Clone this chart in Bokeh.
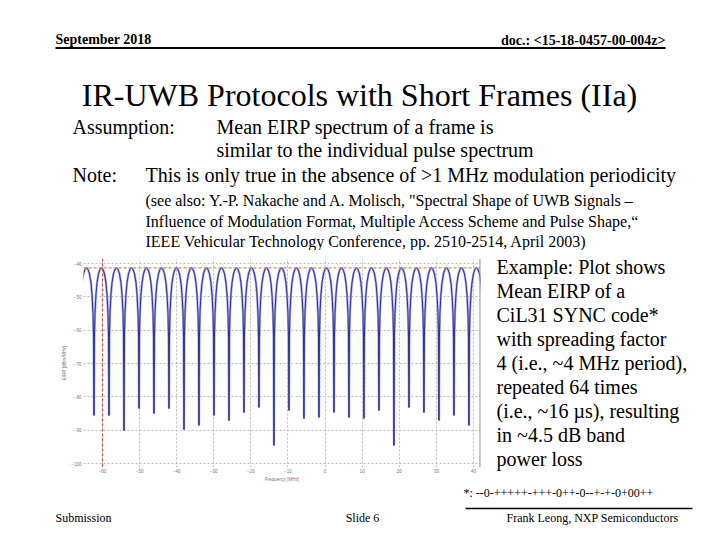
from bokeh.plotting import figure
from bokeh.layouts import column, row
from bokeh.models import Range1d, Span, FixedTicker
from bokeh.core.properties import value
from bokeh.embed import file_html
from bokeh.resources import INLINE

# ---------------- data ----------------
x_ticks = [-60, -50, -40, -30, -20, -10, 0, 10, 20, 30, 40]
y_ticks = [-100, -90, -80, -70, -60, -50, -40]
peak_mhz = [-64.31, -60.27, -56.23, -52.18, -48.14, -44.10, -40.05, -36.01,
            -31.97, -27.92, -23.88, -19.84, -15.80, -11.76, -7.72, -3.67,
            0.38, 4.42, 8.46, 12.50, 16.55, 20.59, 24.63, 28.67, 32.72,
            36.76, 40.80]
peak_dbm = -41.3
null_dbm = [-85.6, -85.6, -90.1, -83.5, -85.0, -83.5, -89.8, -88.6, -85.6,
            -87.1, -84.7, -83.2, -94.6, -84.1, -86.5, -86.2, -84.7, -86.2,
            -86.5, -84.1, -94.6, -83.2, -84.7, -87.1, -85.6, -88.6]
# shape of one lobe: fraction of the half period from the peak, dB below peak
lobe_frac = [0.2, 0.4, 0.6, 0.74, 0.87, 0.94]
lobe_drop_db = [0.43, 1.81, 4.53, 8.15, 13.73, 20.9]
limit_dbm = -41.3
marker_mhz = -60

header_left = "September 2018"
header_right = "doc.: <15-18-0457-00-004z>"
title_text = "IR-UWB Protocols with Short Frames (IIa)"
body_lines = ["Mean EIRP spectrum of a frame is",
              "similar to the individual pulse spectrum",
              "This is only true in the absence of >1 MHz modulation periodicity"]
ref_lines = ["(see also: Y.-P. Nakache and A. Molisch, \"Spectral Shape of UWB Signals \u2013",
             "Influence of Modulation Format, Multiple Access Scheme and Pulse Shape,\u201c",
             "IEEE Vehicular Technology Conference, pp. 2510-2514, April 2003)"]
side_lines = ["Example: Plot shows", "Mean EIRP of a", "CiL31 SYNC code*",
              "with spreading factor", "4 (i.e., ~4 MHz period),",
              "repeated 64 times", "(i.e., ~16 \u00b5s), resulting",
              "in ~4.5 dB band", "power loss"]
code_note = "*: --0-+++++-+++-0++-0--+-+-0+00++"
footer = ["Submission", "Slide 6", "Frank Leong, NXP Semiconductors"]

SERIF = value("Liberation Serif")

# ---------------- curve table built from the arrays ----------------
xs, ys = [], []
n = len(peak_mhz)
for i, pk in enumerate(peak_mhz):
    right_half = (peak_mhz[i + 1] - pk) / 2 if i < n - 1 else (pk - peak_mhz[i - 1]) / 2
    left_half = (pk - peak_mhz[i - 1]) / 2 if i > 0 else right_half
    for f, d in reversed(list(zip(lobe_frac, lobe_drop_db))):
        xs.append(pk - f * left_half); ys.append(peak_dbm - d)
    xs.append(pk); ys.append(peak_dbm)
    for f, d in zip(lobe_frac, lobe_drop_db):
        xs.append(pk + f * right_half); ys.append(peak_dbm - d)
    if i < n - 1:
        xs.append((pk + peak_mhz[i + 1]) / 2); ys.append(null_dbm[i])


def canvas(w, h, x0, x1, y0, y1):
    f = figure(width=w, height=h, x_range=Range1d(x0, x1), y_range=Range1d(y1, y0),
               x_axis_type=None, y_axis_type=None, toolbar_location=None,
               output_backend="svg", min_border=0)
    f.outline_line_color = None
    f.grid.visible = False
    f.background_fill_color = "white"
    f.border_fill_color = "white"
    return f


def txt(fig, x, y, t, size, align="left", bold=False):
    fig.text(x=x, y=y, text=t, text_font=SERIF, text_font_size=value(size),
             text_font_style="bold" if bold else "normal", text_baseline="middle",
             text_align=align, text_color="black")

# ---------------- top band ----------------
top = canvas(712, 250, 0, 712, 0, 250)
txt(top, [55], [39], [header_left], "14px", bold=True)
txt(top, [665], [40], [header_right], "14px", align="right", bold=True)
top.segment(x0=[55], y0=[47.5], x1=[665], y1=[47.5], line_width=2, line_color="black")
txt(top, [359], [94], [title_text], "32px", align="center")
txt(top, [72, 72], [126, 174], ["Assumption:", "Note:"], "20px")
txt(top, [216, 216, 145], [126, 149, 174], body_lines, "20px")
txt(top, [145, 145, 145], [200, 221, 241], ref_lines, "16px")

# ---------------- chart ----------------
p = figure(width=486, height=234, x_range=Range1d(-65.12, 41.89), y_range=Range1d(-101.2, -38.5),
           toolbar_location=None, output_backend="svg",
           min_border_left=83, min_border_right=6, min_border_top=8, min_border_bottom=17)
p.outline_line_color = None
p.background_fill_color = "white"
p.border_fill_color = "white"
p.xaxis.ticker = FixedTicker(ticks=x_ticks)
p.yaxis.ticker = FixedTicker(ticks=y_ticks)
for ax in (p.xaxis, p.yaxis):
    ax.axis_line_color = None
    ax.major_tick_line_color = None
    ax.minor_tick_line_color = None
    ax.major_tick_out = 0
    ax.major_tick_in = 0
    ax.minor_tick_out = 0
    ax.minor_tick_in = 0
    ax.major_label_text_font_size = "4.5px"
    ax.major_label_text_color = "#777777"
    ax.major_label_text_font = "Liberation Sans"
    ax.axis_label_text_font_size = "4.5px"
    ax.axis_label_text_color = "#777777"
    ax.axis_label_text_font = "Liberation Sans"
    ax.axis_label_text_font_style = "normal"
p.xaxis.major_label_standoff = 1
p.xaxis.axis_label_standoff = 1
p.yaxis.major_label_standoff = 2
p.yaxis.axis_label_standoff = 1
p.xaxis.axis_label = "Frequency [MHz]"
p.yaxis.axis_label = "EIRP [dBm/MHz]"
p.grid.grid_line_color = "#bbbbbb"
p.grid.grid_line_dash = "2 2"
p.grid.grid_line_width = 1

p.line(xs, ys, line_color="#a9adee", line_width=2.4)
p.line(xs, ys, line_color="#22227a", line_width=0.9)
p.add_layout(Span(location=limit_dbm, dimension="width", line_color="#d98a55",
                  line_dash="3 2", line_width=1.2))
p.add_layout(Span(location=marker_mhz, dimension="height", line_color="#d05050",
                  line_dash="3 2", line_width=1.2))
p.add_layout(Span(location=41.8, dimension="height", line_color="#999999", line_width=1.5))

# ---------------- right text ----------------
side = canvas(226, 234, 486, 712, 250, 484)
txt(side, [496] * len(side_lines), [266 + 24 * i for i in range(len(side_lines))],
    side_lines, "20px")

# ---------------- bottom band ----------------
bot = canvas(712, 48, 0, 712, 484, 532)
txt(bot, [463], [492], [code_note], "12px")
bot.segment(x0=[465], y0=[508], x1=[692], y1=[508], line_width=1.5, line_color="black")
txt(bot, [55], [517], [footer[0]], "12px")
txt(bot, [362], [517], [footer[1]], "12px", align="center")
txt(bot, [678], [517], [footer[2]], "12px", align="right")

# the text column is nested so that its frame is not aligned with the chart frame
layout = column(top, row(p, column(side)), bot)
open("out.html", "w").write(file_html(layout, INLINE))
